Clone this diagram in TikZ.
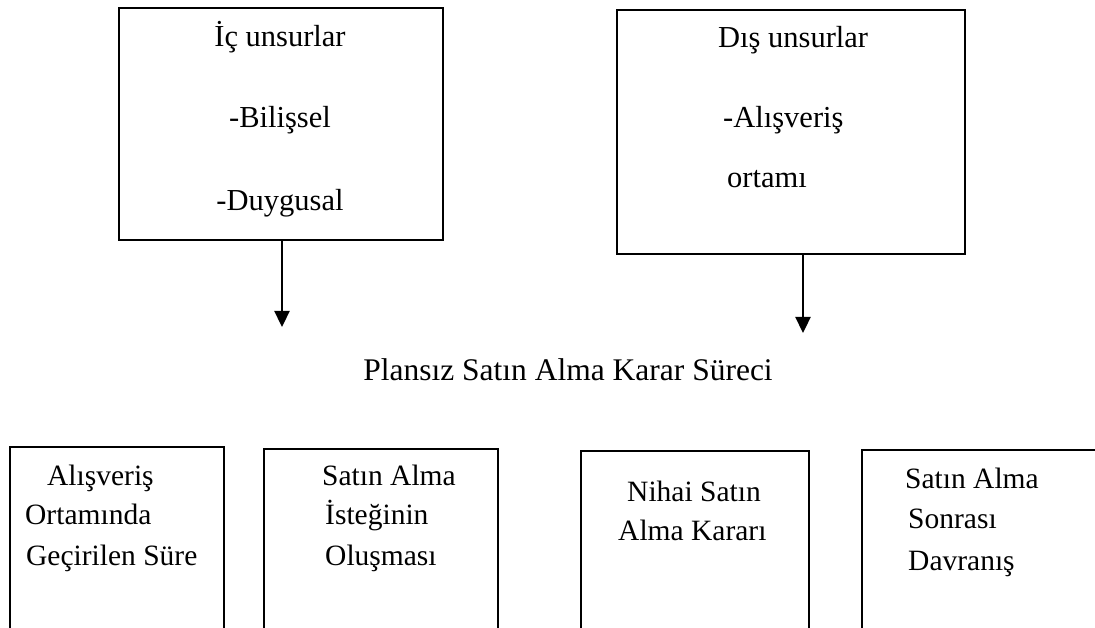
\documentclass[tikz,border=0pt]{standalone}
\usepackage{fontspec}
\setmainfont{Liberation Serif}
\usetikzlibrary{arrows.meta}
\begin{document}
\begin{tikzpicture}[x=1pt,y=-1pt,
  box/.style={draw=black,line width=2.3pt,anchor=north west,inner sep=0pt},
  ttxt/.style={inner sep=0pt,font=\fontsize{30.5}{36}\selectfont},
  btxt/.style={anchor=base west,inner sep=0pt,font=\fontsize{29.5}{35}\selectfont},
  arr/.style={line width=2.3pt,-{Triangle[width=15pt,length=16pt]}}]
\useasboundingbox (0,0) rectangle (1095,628);
\clip (0,0) rectangle (1095,628);
% top boxes
\node[box,minimum width=324pt,minimum height=232pt] (ibox) at (118,7) {};
\node[box,minimum width=348pt,minimum height=244pt] (dbox) at (616,9) {};
\node[ttxt,anchor=base] (i1) at (280,47) {İç unsurlar};
\node[ttxt,anchor=base] (i2) at (280,128) {-Bilişsel};
\node[ttxt,anchor=base] (i3) at (280,211) {-Duygusal};
\node[ttxt,anchor=base west] (d1) at (718,48) {Dış unsurlar};
\node[ttxt,anchor=base west] (d2) at (723,128) {-Alışveriş};
\node[ttxt,anchor=base west] (d3) at (727,188) {ortamı};
% arrows
\coordinate (t1) at (282,327);
\coordinate (t2) at (803,333);
\draw[arr] (ibox.south -| t1) -- (t1);
\draw[arr] (dbox.south -| t2) -- (t2);
% title
\node[inner sep=0pt,anchor=base,font=\fontsize{31.5}{38}\selectfont] (title) at (568,380) {Plansız Satın Alma Karar Süreci};
% bottom boxes
\node[box,minimum width=214pt,minimum height=220pt] (b1) at (9,446) {};
\node[box,minimum width=234pt,minimum height=220pt] (b2) at (263,448) {};
\node[box,minimum width=228pt,minimum height=220pt] (b3) at (580,450) {};
\node[box,minimum width=260pt,minimum height=220pt] (b4) at (861,449) {};
\node[btxt] (b1a) at (47,485) {Alışveriş};
\node[btxt] (b1b) at (25,524) {Ortamında};
\node[btxt] (b1c) at (26,565) {Geçirilen Süre};
\node[btxt] (b2a) at (322,485) {Satın Alma};
\node[btxt] (b2b) at (325,524) {İsteğinin};
\node[btxt] (b2c) at (325,565) {Oluşması};
\node[btxt] (b3a) at (627,501) {Nihai Satın};
\node[btxt] (b3b) at (618,540) {Alma Kararı};
\node[btxt] (b4a) at (905,488) {Satın Alma};
\node[btxt] (b4b) at (908,528) {Sonrası};
\node[btxt] (b4c) at (908,570) {Davranış};
\end{tikzpicture}
\end{document}
